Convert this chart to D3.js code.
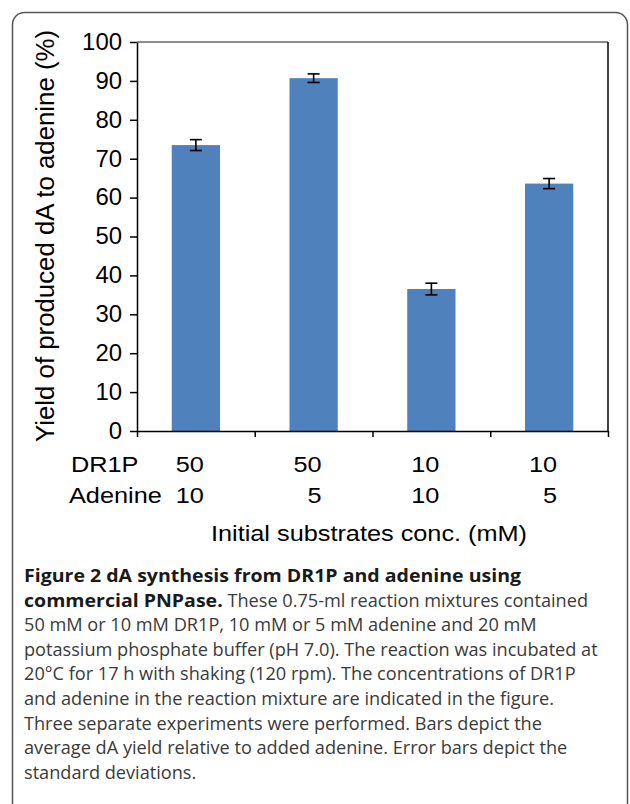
<!DOCTYPE html>
<html><head><meta charset="utf-8">
<script src="https://cdn.jsdelivr.net/npm/d3@7/dist/d3.min.js"></script>
<style>body{margin:0;background:#fff;}svg{display:block;}</style>
</head><body>
<svg id="c" width="630" height="804"></svg>
<script>
const categories = ["A","B","C","D"];
const dr1p = ["50","50","10","10"];
const adenine = ["10","5","10","5"];
const yields = [73.5, 90.7, 36.5, 63.6];
const errors = [1.4, 1.1, 1.5, 1.3];
const yTicks = [0,10,20,30,40,50,60,70,80,90,100];
const yLabel = "Yield of produced dA to adenine (%)";
const xTitle = "Initial substrates conc. (mM)";
const rowLabels = ["DR1P","Adenine"];
const captionLines = [
  [{b:true,t:"Figure 2 dA synthesis from DR1P and adenine using"}],
  [{b:true,t:"commercial PNPase."},{b:false,t:" These 0.75-ml reaction mixtures contained"}],
  [{b:false,t:"50 mM or 10 mM DR1P, 10 mM or 5 mM adenine and 20 mM"}],
  [{b:false,t:"potassium phosphate buffer (pH 7.0). The reaction was incubated at"}],
  [{b:false,t:"20°C for 17 h with shaking (120 rpm). The concentrations of DR1P"}],
  [{b:false,t:"and adenine in the reaction mixture are indicated in the figure."}],
  [{b:false,t:"Three separate experiments were performed. Bars depict the"}],
  [{b:false,t:"average dA yield relative to added adenine. Error bars depict the"}],
  [{b:false,t:"standard deviations."}]
];

const svg = d3.select("#c");
// frame
svg.append("rect").attr("x",12.5).attr("y",12.5).attr("width",615).attr("height",840)
  .attr("rx",12).attr("fill","none").attr("stroke","#555").attr("stroke-width",1.5);

const L=137, R=608, T=42, B=431;
const x = d3.scaleBand().domain(categories).range([L,R]).paddingInner(0.59).paddingOuter(0.295);
const xb = d3.scaleLinear().domain([0,categories.length]).range([L,R]);
const y = d3.scaleLinear().domain([0,100]).range([B,T]);
const font = "'Liberation Sans', Arial, sans-serif";
const SX = 1.15;

function stext(g, px, py, txt, size, anchor, sx){
  return g.append("text").attr("transform",`translate(${px},${py}) scale(${sx},1)`)
    .attr("text-anchor",anchor||"start").text(txt)
    .attr("font-family",font).attr("font-size",size).attr("fill","#000");
}

// plot box top & right
svg.append("line").attr("x1",L).attr("x2",R).attr("y1",T).attr("y2",T).attr("stroke","#666").attr("stroke-width",1.5);
svg.append("line").attr("x1",R).attr("x2",R).attr("y1",T).attr("y2",B).attr("stroke","#000").attr("stroke-width",1.5);

// bars
svg.selectAll("rect.bar").data(categories).join("rect").attr("class","bar")
  .attr("x",d=>x(d)).attr("width",x.bandwidth())
  .attr("y",(d,i)=>y(yields[i])).attr("height",(d,i)=>B-y(yields[i]))
  .attr("fill","#4f81bd");

// error bars
const eb = svg.append("g").attr("stroke","#000").attr("stroke-width",1.6);
categories.forEach((c,i)=>{
  const cx = x(c)+x.bandwidth()/2;
  const y1=y(yields[i]+errors[i]), y2=y(yields[i]-errors[i]);
  eb.append("line").attr("x1",cx).attr("x2",cx).attr("y1",y1).attr("y2",y2);
  eb.append("line").attr("x1",cx-6).attr("x2",cx+6).attr("y1",y1).attr("y2",y1);
  eb.append("line").attr("x1",cx-6).attr("x2",cx+6).attr("y1",y2).attr("y2",y2);
});

// y axis
const ya = svg.append("g").attr("transform",`translate(${L},0)`)
  .call(d3.axisLeft(y).tickValues(yTicks).tickSize(7).tickPadding(8).tickSizeOuter(0));
ya.select(".domain").attr("stroke","#000").attr("stroke-width",1.5);
ya.selectAll(".tick line").attr("stroke","#000").attr("stroke-width",1.5);
ya.selectAll(".tick text").attr("font-family",font).attr("font-size",23).attr("fill","#000")
  .attr("transform","scale(1.04,1)").attr("x",-15/1.04);

// x axis (boundary ticks)
const xa = svg.append("g").attr("transform",`translate(0,${B})`)
  .call(d3.axisBottom(xb).tickValues(d3.range(categories.length+1)).tickSize(6).tickFormat("").tickSizeOuter(0));
xa.select(".domain").attr("stroke","#000").attr("stroke-width",1.5);
xa.selectAll(".tick line").attr("stroke","#000").attr("stroke-width",1.5);

// row labels
const rowY=[472,503];
rowLabels.forEach((t,k)=>{ stext(svg, k===0?71:69, rowY[k], t, 22, "start", SX); });
[dr1p,adenine].forEach((arr,k)=>{
  categories.forEach((c,i)=>{
    stext(svg, x(c)+x.bandwidth()/2+8, rowY[k], arr[i], 22, "end", SX);
  });
});

// x title
stext(svg, 369, 541, xTitle, 22, "middle", SX);

// y label
svg.append("text").attr("transform","translate(54,236) rotate(-90)").attr("text-anchor","middle")
  .text(yLabel).attr("font-family",font).attr("font-size",25.8).attr("fill","#000");

// caption
const cap = svg.append("g");
const capFont = "'Open Sans', sans-serif";
const NSX = 1.05, BSX = 1.13;
captionLines.forEach((line,i)=>{
  let cx = 24;
  const cy = 582+i*24.6;
  line.forEach(s=>{
    const sx = s.b?BSX:NSX;
    const t = cap.append("text").attr("transform",`translate(${cx},${cy}) scale(${sx},1)`)
      .attr("font-family",capFont).attr("font-size",17.3)
      .attr("font-weight",s.b?"bold":"normal").attr("fill",s.b?"#1a1a1a":"#3a3a3a")
      .attr("xml:space","preserve").style("white-space","pre").text(s.t);
    cx += t.node().getComputedTextLength()*sx;
  });
});
</script>
</body></html>
